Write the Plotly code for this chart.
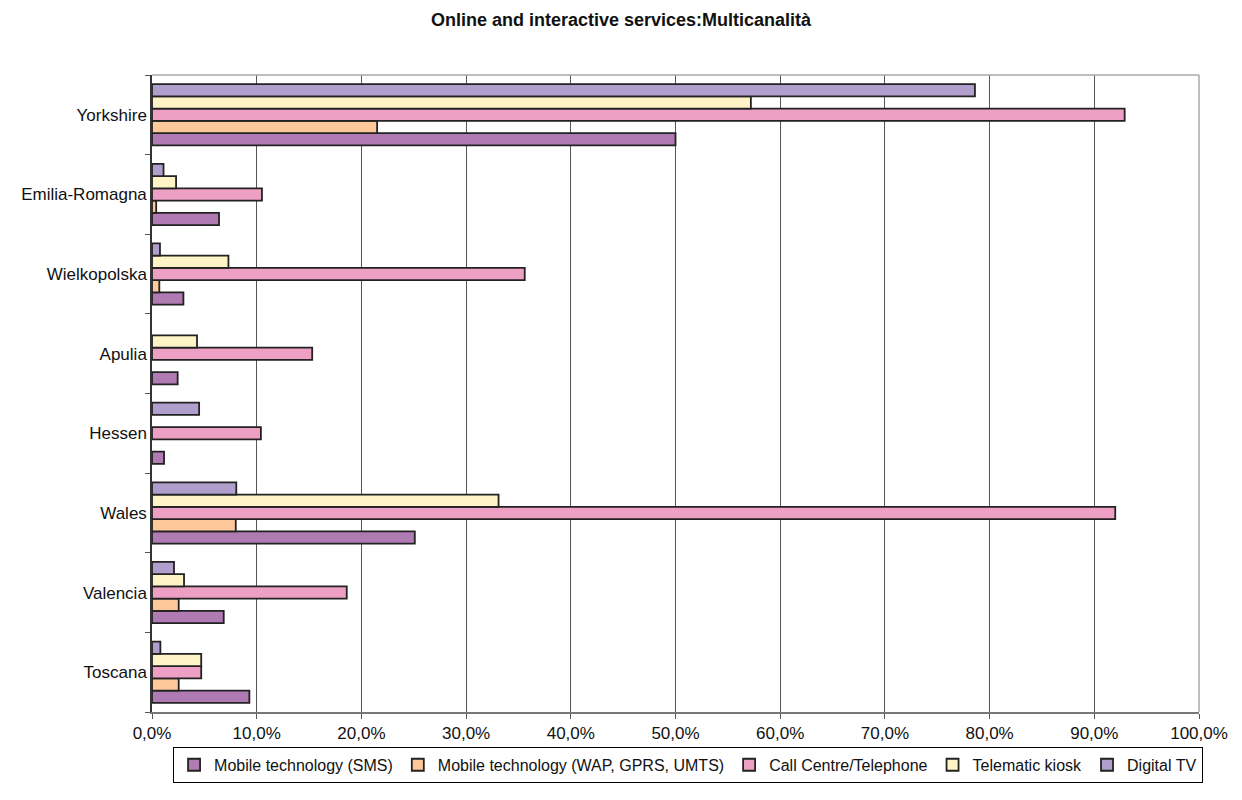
import plotly.graph_objects as go

# Regions, listed bottom to top as they appear on the category axis
regions = ["Toscana", "Valencia", "Wales", "Hessen", "Apulia",
           "Wielkopolska", "Emilia-Romagna", "Yorkshire"]

# Share of services offered per channel (%), same order as regions
sms = [9.3, 6.85, 25.1, 1.15, 2.45, 3.0, 6.4, 50.0]
wap = [2.55, 2.55, 8.0, None, None, 0.7, 0.4, 21.5]
call_centre = [4.7, 18.6, 92.0, 10.4, 15.3, 35.6, 10.5, 92.9]
kiosk = [4.7, 3.06, 33.1, None, 4.3, 7.3, 2.3, 57.2]
digital_tv = [0.8, 2.1, 8.05, 4.5, None, 0.76, 1.1, 78.6]

series_names = ["Mobile technology (SMS)",
                "Mobile technology (WAP, GPRS, UMTS)",
                "Call Centre/Telephone",
                "Telematic kiosk",
                "Digital TV"]
series_values = [sms, wap, call_centre, kiosk, digital_tv]
series_colors = ["#B07AB2", "#FFC89A", "#EEA0C4", "#FFF4C6", "#B09ECD"]

x_ticks = list(range(0, 101, 10))
x_ticktext = [f"{v},0%" for v in x_ticks]

fig = go.Figure()
for name, vals, col in zip(series_names, series_values, series_colors):
    fig.add_trace(go.Bar(
        y=regions, x=vals, name=name, orientation="h",
        marker=dict(color=col, line=dict(color="#222222", width=1.8)),
    ))

fig.update_layout(
    width=1242, height=800,
    barmode="group", bargap=0.23, bargroupgap=0,
    plot_bgcolor="white", paper_bgcolor="white",
    font=dict(family="Arial, Liberation Sans, sans-serif", size=17, color="#111111"),
    margin=dict(l=152, r=43, t=75, b=88),
    title=dict(text="<b>Online and interactive services:Multicanalità</b>",
               x=0.5, xanchor="center", y=0.975, yanchor="middle",
               font=dict(size=18, color="#111111")),
    xaxis=dict(range=[0, 100], tickvals=x_ticks, ticktext=x_ticktext,
               showgrid=True, gridcolor="#555555", gridwidth=1,
               showline=True, linecolor="#777777", linewidth=1.5,
               ticks="outside", ticklen=5, tickcolor="#555555",
               zeroline=False, fixedrange=True),
    yaxis=dict(categoryorder="array", categoryarray=regions,
               showgrid=False, showline=True, linecolor="#333333", linewidth=1.5,
               ticks="outside", tickson="boundaries", ticklen=5, tickcolor="#555555",
               fixedrange=True),
    legend=dict(orientation="h", x=0.512, xanchor="center", y=-0.083, yanchor="middle",
                bordercolor="black", borderwidth=1, font=dict(size=16),
                itemwidth=30, tracegroupgap=0, traceorder="normal"),
    shapes=[
        dict(type="line", xref="paper", yref="paper", x0=0, x1=1, y0=1, y1=1,
             line=dict(color="#AAAAAA", width=1.5)),
        dict(type="line", xref="paper", yref="paper", x0=1, x1=1, y0=0, y1=1,
             line=dict(color="#AAAAAA", width=1.5)),
    ],
)

fig.write_html("out.html")
